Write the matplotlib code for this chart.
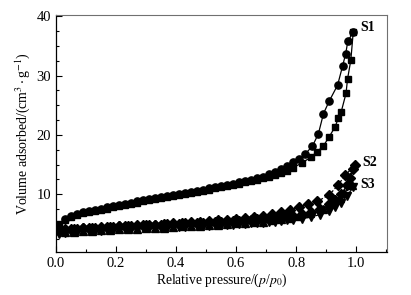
import matplotlib
matplotlib.use("Agg")
import matplotlib.pyplot as plt
from matplotlib.ticker import MultipleLocator

plt.rcParams['font.family'] = ['Liberation Serif', 'DejaVu Serif']
plt.rcParams['mathtext.fontset'] = 'stix'

# S1 adsorption (squares)
s1_ads_x = [0.01, 0.03, 0.05, 0.07, 0.09, 0.11, 0.13, 0.15, 0.17, 0.19, 0.21, 0.23, 0.25, 0.27, 0.29,
            0.31, 0.33, 0.35, 0.37, 0.39, 0.41, 0.43, 0.45, 0.47, 0.49, 0.51, 0.53, 0.55, 0.57, 0.59,
            0.61, 0.63, 0.65, 0.67, 0.69, 0.71, 0.73, 0.75, 0.77, 0.79, 0.82, 0.85, 0.87, 0.89, 0.91,
            0.93, 0.94, 0.95, 0.966, 0.971, 0.982, 0.99]
s1_ads_y = [5.0, 5.6, 6.1, 6.5, 6.8, 7.0, 7.2, 7.4, 7.6, 7.8, 8.0, 8.2, 8.4, 8.6, 8.8,
            9.0, 9.2, 9.4, 9.5, 9.7, 9.9, 10.0, 10.2, 10.4, 10.6, 10.8, 11.0, 11.2, 11.4, 11.6,
            11.8, 12.0, 12.2, 12.4, 12.7, 13.0, 13.3, 13.6, 14.0, 14.5, 15.3, 16.3, 17.2, 18.1, 19.7,
            21.4, 22.8, 23.9, 27.0, 29.4, 32.6, 37.3]
# S1 desorption (circles)
s1_des_x = [0.99, 0.972, 0.965, 0.955, 0.938, 0.91, 0.891, 0.874, 0.854, 0.83, 0.81, 0.79, 0.77, 0.75,
            0.73, 0.71, 0.69, 0.67, 0.65, 0.63, 0.61, 0.59, 0.57, 0.55, 0.53, 0.51, 0.49, 0.47, 0.45,
            0.43, 0.41, 0.39, 0.37, 0.35, 0.33, 0.31, 0.29, 0.27, 0.25, 0.23, 0.21, 0.19, 0.17, 0.15,
            0.13, 0.11, 0.09, 0.07, 0.05, 0.03]
s1_des_y = [37.3, 35.8, 33.7, 31.7, 28.4, 25.7, 23.6, 20.2, 18.1, 16.8, 16.0, 15.4, 14.8, 14.3,
            13.8, 13.4, 13.0, 12.7, 12.4, 12.2, 12.0, 11.8, 11.6, 11.4, 11.2, 11.0, 10.8, 10.6, 10.4,
            10.2, 10.1, 9.9, 9.7, 9.6, 9.4, 9.2, 9.0, 8.8, 8.6, 8.4, 8.2, 8.0, 7.8, 7.6,
            7.4, 7.2, 7.0, 6.7, 6.3, 5.8]

# S2 adsorption / desorption (diamonds)
s2_ads_x = [0.01, 0.03, 0.05, 0.07, 0.09, 0.11, 0.13, 0.15, 0.17, 0.19, 0.21, 0.23, 0.25, 0.27, 0.29,
            0.31, 0.33, 0.35, 0.37, 0.39, 0.41, 0.43, 0.45, 0.47, 0.49, 0.51, 0.53, 0.55, 0.57, 0.59,
            0.61, 0.63, 0.65, 0.67, 0.69, 0.71, 0.73, 0.75, 0.77, 0.79, 0.82, 0.85, 0.88, 0.91, 0.93,
            0.95, 0.97, 0.98, 0.99]
s2_ads_y = [3.9, 4.0, 4.1, 4.2, 4.3, 4.3, 4.4, 4.4, 4.5, 4.5, 4.6, 4.6, 4.7, 4.7, 4.8,
            4.8, 4.9, 4.9, 5.0, 5.0, 5.0, 5.1, 5.1, 5.2, 5.2, 5.3, 5.3, 5.4, 5.4, 5.5,
            5.5, 5.6, 5.7, 5.8, 5.8, 5.9, 6.0, 6.1, 6.2, 6.4, 6.7, 7.1, 7.6, 8.3, 9.0,
            10.0, 11.6, 12.8, 14.2]
s2_des_x = [0.995, 0.963, 0.94, 0.91, 0.87, 0.84, 0.81, 0.78, 0.75, 0.72, 0.69, 0.66, 0.63, 0.60,
            0.57, 0.54, 0.51, 0.48, 0.45, 0.42, 0.39, 0.36, 0.33, 0.30, 0.27, 0.24, 0.21, 0.18,
            0.15, 0.12, 0.09, 0.06, 0.03]
s2_des_y = [14.9, 13.2, 11.6, 9.9, 8.8, 8.3, 7.9, 7.4, 7.0, 6.7, 6.4, 6.2, 6.0, 5.8,
            5.7, 5.6, 5.5, 5.4, 5.3, 5.2, 5.1, 5.0, 4.9, 4.9, 4.8, 4.7, 4.6, 4.5,
            4.5, 4.4, 4.3, 4.2, 4.1]

# S3 adsorption / desorption (triangles)
s3_ads_x = [0.01, 0.03, 0.05, 0.07, 0.09, 0.11, 0.13, 0.15, 0.17, 0.19, 0.21, 0.23, 0.25, 0.27, 0.29,
            0.31, 0.33, 0.35, 0.37, 0.39, 0.41, 0.43, 0.45, 0.47, 0.49, 0.51, 0.53, 0.55, 0.57, 0.59,
            0.61, 0.63, 0.65, 0.67, 0.69, 0.71, 0.73, 0.75, 0.77, 0.79, 0.82, 0.85, 0.88, 0.91, 0.93,
            0.95, 0.97, 0.99]
s3_ads_y = [3.4, 3.5, 3.6, 3.7, 3.8, 3.8, 3.9, 3.9, 4.0, 4.0, 4.1, 4.1, 4.2, 4.2, 4.3,
            4.3, 4.3, 4.4, 4.4, 4.5, 4.5, 4.5, 4.6, 4.6, 4.7, 4.7, 4.8, 4.8, 4.9, 4.9,
            5.0, 5.0, 5.1, 5.1, 5.2, 5.3, 5.4, 5.5, 5.6, 5.7, 5.9, 6.2, 6.6, 7.2, 7.8,
            8.6, 9.8, 11.2]
s3_des_x = [0.986, 0.96, 0.947, 0.924, 0.89, 0.847, 0.81, 0.78, 0.75, 0.72, 0.69, 0.66, 0.63, 0.60,
            0.57, 0.54, 0.51, 0.48, 0.45, 0.42, 0.39, 0.36, 0.33, 0.30, 0.27, 0.24, 0.21, 0.18,
            0.15, 0.12, 0.09, 0.06, 0.03]
s3_des_y = [11.6, 10.2, 9.3, 8.5, 7.6, 6.8, 6.3, 6.0, 5.8, 5.6, 5.4, 5.3, 5.2, 5.1,
            5.0, 4.9, 4.8, 4.7, 4.6, 4.6, 4.5, 4.4, 4.4, 4.3, 4.2, 4.2, 4.1, 4.0,
            4.0, 3.9, 3.8, 3.7, 3.6]

labels = ['S1', 'S2', 'S3']

fig = plt.figure(figsize=(4.11, 2.95), dpi=100)
ax = fig.add_axes([0.136, 0.146, 0.806, 0.803])

lw = 0.9
ax.plot(s1_ads_x, s1_ads_y, '-', color='black', lw=lw, marker='s', ms=4.8)
ax.plot(s1_des_x, s1_des_y, '-', color='black', lw=lw, marker='o', ms=5.2)
ax.plot(s2_ads_x, s2_ads_y, '-', color='black', lw=lw, marker='D', ms=4.6)
ax.plot(s2_des_x, s2_des_y, '--', color='black', lw=lw, marker='D', ms=4.6)
ax.plot(s3_ads_x, s3_ads_y, '-', color='black', lw=lw, marker='v', ms=5.6)
ax.plot(s3_des_x, s3_des_y, '--', color='black', lw=lw, marker='^', ms=5.6)

ax.text(1.015, 38.1, labels[0], fontsize=10, fontweight='bold', va='center', ha='left')
ax.text(1.02, 15.4, labels[1], fontsize=10, fontweight='bold', va='center', ha='left')
ax.text(1.015, 11.6, labels[2], fontsize=10, fontweight='bold', va='center', ha='left')

ax.set_xlim(0, 1.103)
ax.set_ylim(0.3, 40.2)
ax.set_xticks([0.0, 0.2, 0.4, 0.6, 0.8, 1.0])
ax.set_xticklabels(['0.0', '0.2', '0.4', '0.6', '0.8', '1.0'])
ax.set_yticks([10, 20, 30, 40])
ax.xaxis.set_minor_locator(MultipleLocator(0.1))
ax.yaxis.set_minor_locator(MultipleLocator(2.5))
ax.tick_params(which='both', direction='in', top=False, right=False, labelsize=10.5)
ax.tick_params(which='major', length=4, width=0.8)
ax.tick_params(which='minor', length=2.5, width=0.8)
ax.tick_params(axis='x', pad=4)
for s in ['top', 'right']:
    ax.spines[s].set_color('#707070')
    ax.spines[s].set_linewidth(0.8)
for s in ['left', 'bottom']:
    ax.spines[s].set_linewidth(0.9)

ax.set_xlabel(r'Relative pressure/($p$/$p_0$)', fontsize=9.8, labelpad=1)
ax.set_ylabel(r'Volume adsorbed/(cm$^3\cdot$g$^{-1}$)', fontsize=10, labelpad=3)

fig.savefig('out.png', dpi=100)
